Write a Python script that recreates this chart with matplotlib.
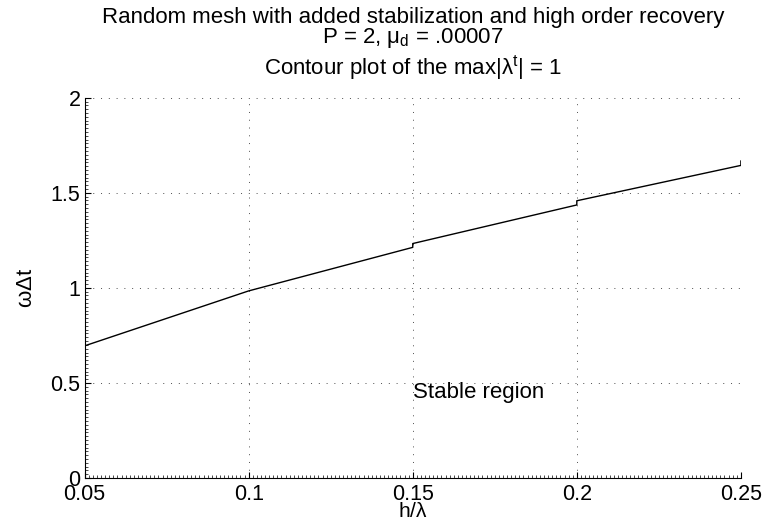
import matplotlib
matplotlib.use("Agg")
import matplotlib.pyplot as plt
from matplotlib.ticker import MultipleLocator

plt.rcParams['font.family'] = ['Liberation Sans', 'DejaVu Sans']
plt.rcParams['mathtext.fontset'] = 'custom'
plt.rcParams['mathtext.rm'] = 'Liberation Sans'
plt.rcParams['mathtext.it'] = 'Liberation Sans'
plt.rcParams['mathtext.default'] = 'regular'

# Stability boundary (max|lambda^t| = 1), with small steps at the sample joins
h_over_lambda = [0.05, 0.10, 0.15, 0.15, 0.20, 0.20, 0.25, 0.25]
omega_dt = [0.695, 0.984, 1.213, 1.233, 1.436, 1.458, 1.644, 1.667]

xticks = [0.05, 0.1, 0.15, 0.2, 0.25]
xticklabels = ['0.05', '0.1', '0.15', '0.2', '0.25']
yticks = [0, 0.5, 1, 1.5, 2]
yticklabels = ['0', '0.5', '1', '1.5', '2']

FS = 16
TICK_FS = 15.5

fig = plt.figure(figsize=(7.63, 5.29), dpi=100)
ax = fig.add_axes([0.1109, 0.0964, 0.8601, 0.7189])

ax.plot(h_over_lambda, omega_dt, color='k', linewidth=1.0)

ax.set_xlim(0.05, 0.25)
ax.set_ylim(0, 2)
ax.set_xticks(xticks)
ax.set_xticklabels(xticklabels)
ax.set_yticks(yticks)
ax.set_yticklabels(yticklabels)
ax.xaxis.set_minor_locator(MultipleLocator(0.00125))
ax.yaxis.set_minor_locator(MultipleLocator(0.02))
ax.tick_params(which='major', direction='in', length=4, width=0.8, labelsize=TICK_FS)
ax.tick_params(axis='x', which='major', pad=4)
ax.tick_params(axis='y', which='major', pad=3)
ax.tick_params(which='minor', direction='in', length=2, width=0.5)
ax.tick_params(top=False, right=False)

for side in ('top', 'right'):
    ax.spines[side].set_visible(False)
for side in ('left', 'bottom'):
    ax.spines[side].set_linewidth(0.8)

ax.grid(True, which='major', color='0.3', linestyle=(0, (1, 7)), linewidth=0.7)

ax.set_xlabel(r'h/$\lambda$', fontsize=15, labelpad=-2)
ax.set_ylabel(r'$\omega\Delta$t', fontsize=FS, labelpad=10)

ax.set_title(r'Contour plot of the max|$\lambda^t$| = 1', fontsize=FS, y=1.0623, pad=0)
fig.text(0.5413, 0.9565, 'Random mesh with added stabilization and high order recovery',
         ha='center', va='baseline', fontsize=FS)
fig.text(0.5413, 0.9187, r'P = 2, $\mu_d$ = .00007', ha='center', va='baseline', fontsize=FS)

ax.text(0.15, 0.45, 'Stable region', ha='left', va='center', fontsize=FS)

fig.savefig('out.png', dpi=100)
